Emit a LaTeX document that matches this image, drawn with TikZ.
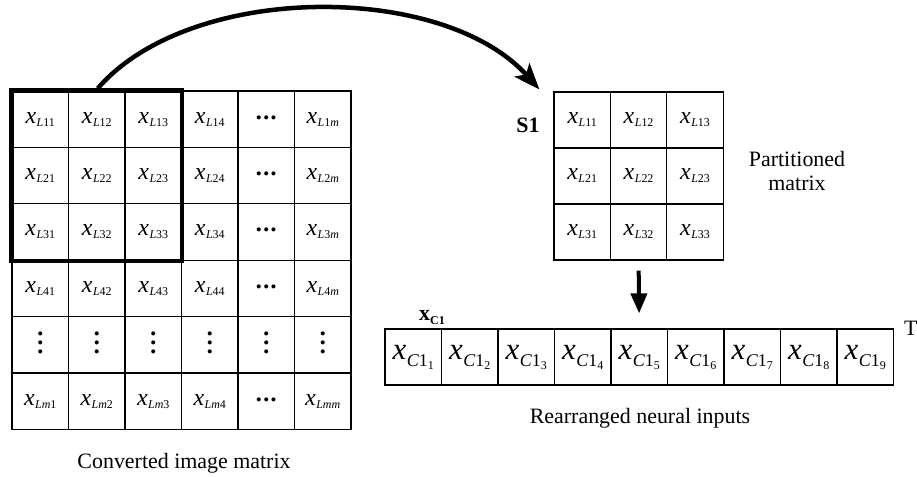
\documentclass[tikz,border=0pt]{standalone}
\usepackage{fontspec}
\setmainfont{Liberation Serif}
\usetikzlibrary{arrows.meta,calc}
\newcommand{\xl}[2]{\textit{x}\kern0.5bp\raisebox{-3bp}{\fontsize{12}{12}\selectfont\textit{L}#1#2}}
\newcommand{\xcc}[1]{\textit{x}\kern0.5bp\raisebox{-7bp}{\fontsize{18}{18}\selectfont\textit{C}1\raisebox{-3bp}{\fontsize{12}{12}\selectfont #1}}}
\newcommand{\hd}{{\fontsize{17}{17}\selectfont\textbullet\kern1.5bp\textbullet\kern1.5bp\textbullet}}
\tikzset{
  cell/.style={draw, line width=1.2bp, minimum width=56.5bp, minimum height=56.4bp, inner sep=0pt, font=\fontsize{24}{24}\selectfont},
  vcell/.style={cell, align=center, font=\fontsize{17}{9}\selectfont},
  pcell/.style={cell, minimum width=56.4bp, minimum height=56bp},
  bcell/.style={cell, minimum height=56bp, font=\fontsize{31}{31}\selectfont},
  lbl/.style={font=\fontsize{22}{25}\selectfont, align=center, inner sep=0pt},
  bigarrow/.style={line width=4.5bp, -{Stealth[length=26bp,width=20bp,inset=6bp]}},
  downarrow/.style={line width=4bp, -{Triangle[length=20bp,width=16bp]}}
}
\begin{document}
\begin{tikzpicture}[x=1bp,y=-1bp]
\useasboundingbox (0,0) rectangle (917,477);
% left matrix
\foreach \i/\rr in {1/1,2/2,3/3,4/4,6/\textit{m}}{
  \foreach \j/\cc in {1/1,2/2,3/3,4/4,6/\textit{m}}{
    \node[cell] (c\i\j) at ({12+56.5*(\j-0.5)},{91+56.4*(\i-0.5)}) {\xl{\rr}{\cc}};
  }
  \node[cell] (c\i5) at ({12+56.5*4.5},{91+56.4*(\i-0.5)}) {\hd};
}
\foreach \j in {1,...,6}{
  \node[vcell] (c5\j) at ({12+56.5*(\j-0.5)},{91+56.4*4.5}) {\textbullet\\\textbullet\\\textbullet};
}
\draw[line width=4.5bp] (c11.north west) rectangle (c33.south east);
% partitioned matrix
\foreach \i in {1,2,3}{
  \foreach \j in {1,2,3}{
    \node[pcell] (p\i\j) at ({554+56.4*(\j-0.5)},{92+56*(\i-0.5)}) {\xl{\i}{\j}};
  }
}
% bottom row
\foreach \k in {1,...,9}{
  \node[bcell] (b\k) at ({385+56.5*(\k-0.5)},357) {\xcc{\k}};
}
% labels
\node[lbl, font=\fontsize{22}{22}\selectfont\bfseries] (s1) at (528,125) {S1};
\node[lbl] (pm) at (797,171) {Partitioned\\matrix};
\node[lbl] (xc) at (432,318) {\textbf{x}\raisebox{-4bp}{\fontsize{12}{12}\selectfont\bfseries C1}};
\node[lbl, anchor=west] (tt) at (904,328) {T};
\node[lbl] (rni) at (640,418) {Rearranged neural inputs};
\node[lbl] (cim) at (184,463) {Converted image matrix};
% arrows
\coordinate (cs) at ($(c12.north)+(1,-2)$);
\coordinate (ce) at ($(p11.north west)+(-14,-2)$);
\draw[bigarrow] (cs) .. controls (190,-18) and (443,-18) .. (ce);
\draw[downarrow, shorten <=10bp, shorten >=15bp] (p32.south) -- (b5.north);
\end{tikzpicture}
\end{document}
